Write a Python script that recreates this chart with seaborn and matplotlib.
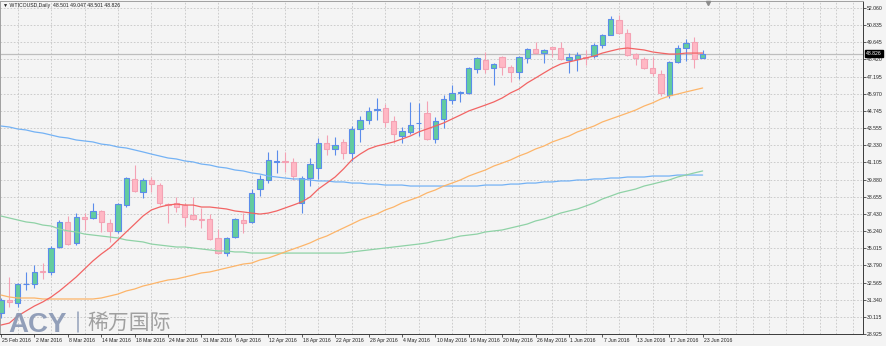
import matplotlib
matplotlib.use("Agg")
import matplotlib.pyplot as plt
import matplotlib.transforms as mtransforms
from matplotlib.lines import Line2D
import numpy as np
import pandas as pd
import seaborn as sns

# ---- daily WTI candles, 25 Feb 2016 .. 23 Jun 2016 ----
symbol = "WTICOUSD,Daily"
last_quote = [48.501, 49.047, 48.501, 48.826]  # open, high, low, close of the latest bar

opens = [30.41, 31.33, 31.11, 32.43, 32.46, 33.39, 33.32, 35.09, 36.87, 35.37,
         37.19, 37.15, 37.65, 36.80, 36.23, 38.07, 39.92, 39.00, 39.85, 39.49,
         38.11, 38.22, 38.07, 37.36, 37.11, 37.08, 35.73, 34.66, 35.80, 37.01,
         36.87, 39.21, 39.85, 41.16, 41.23, 41.13, 38.22, 39.99, 40.70, 42.48,
         42.05, 42.55, 41.79, 43.47, 44.11, 44.82, 44.96, 44.04, 42.97, 43.26,
         43.86, 44.60, 42.76, 44.18, 45.53, 46.06, 46.03, 47.73, 48.37, 47.80,
         48.58, 47.87, 47.52, 48.51, 49.15, 48.86, 49.26, 49.22, 48.40, 48.44,
         48.58, 48.65, 49.43, 50.14, 51.21, 50.29, 48.76, 48.44, 47.80, 47.37,
         45.88, 48.23, 49.22, 49.65, 48.501]
highs = [31.47, 32.96, 32.54, 33.32, 33.81, 33.95, 35.16, 37.01, 37.29, 37.50,
         37.50, 38.22, 37.72, 37.08, 38.22, 40.06, 40.91, 39.99, 40.06, 39.63,
         38.22, 38.64, 38.22, 38.64, 37.86, 37.43, 36.37, 35.80, 37.15, 37.50,
         39.21, 40.20, 41.84, 41.98, 41.84, 41.41, 40.13, 41.41, 42.83, 43.04,
         42.90, 42.76, 43.68, 44.39, 45.03, 45.67, 45.24, 44.39, 43.61, 45.39,
         45.32, 45.46, 44.32, 45.88, 46.59, 46.17, 47.87, 48.58, 48.92, 48.16,
         48.65, 48.01, 48.65, 49.22, 49.65, 49.15, 49.29, 49.65, 48.86, 48.94,
         49.08, 49.58, 50.21, 51.49, 51.56, 50.57, 48.86, 48.58, 48.58, 47.66,
         48.30, 49.43, 49.89, 50.00, 49.047]
lows = [30.05, 30.83, 30.83, 32.04, 32.18, 32.82, 33.10, 35.02, 35.23, 35.23,
        36.30, 37.08, 36.16, 35.45, 36.09, 37.93, 39.00, 38.57, 39.00, 38.07,
        36.80, 37.58, 36.58, 37.01, 36.44, 35.59, 34.59, 34.45, 35.73, 36.09,
        36.80, 38.71, 39.63, 40.35, 40.42, 39.85, 37.50, 39.42, 39.92, 41.62,
        41.62, 41.34, 41.20, 42.55, 43.82, 44.11, 43.61, 42.48, 42.48, 43.11,
        42.97, 42.69, 42.48, 43.54, 45.24, 45.39, 45.95, 47.45, 47.45, 46.59,
        47.30, 46.81, 47.02, 48.16, 48.79, 48.16, 48.58, 48.37, 47.45, 47.59,
        48.01, 48.51, 49.22, 50.14, 50.21, 48.65, 48.01, 47.73, 47.23, 45.81,
        45.67, 48.16, 48.30, 47.80, 48.501]
closes = [31.33, 31.22, 32.46, 32.46, 33.32, 33.32, 35.02, 36.87, 35.30, 37.22,
          37.11, 37.65, 36.87, 36.23, 38.14, 39.99, 39.07, 39.85, 39.56, 38.22,
          38.04, 37.93, 37.22, 37.08, 37.04, 35.66, 34.66, 35.73, 37.08, 36.83,
          38.93, 39.92, 41.27, 41.20, 41.13, 40.13, 39.99, 40.98, 42.48, 42.05,
          42.33, 41.79, 43.47, 44.11, 44.75, 44.89, 43.97, 43.11, 43.33, 43.75,
          43.90, 42.76, 44.04, 45.60, 46.03, 46.10, 47.80, 48.51, 47.73, 48.08,
          47.87, 47.52, 48.58, 49.15, 48.86, 49.08, 49.18, 48.44, 48.58, 48.69,
          48.51, 49.43, 50.14, 51.28, 50.29, 48.72, 48.51, 47.80, 47.45, 46.03,
          48.23, 49.22, 49.61, 48.44, 48.826]

# moving averages shown on the chart
ma_fast = [29.55, 29.69, 30.19, 30.55, 30.90, 31.19, 31.54, 31.97, 32.46, 32.96,
           33.53, 34.10, 34.59, 35.02, 35.59, 36.16, 36.72, 37.29, 37.72, 37.93,
           38.07, 38.14, 38.07, 38.07, 37.93, 37.93, 37.86, 37.79, 37.65, 37.58,
           37.50, 37.43, 37.50, 37.65, 37.86, 38.07, 38.29, 38.64, 39.21, 39.63,
           40.06, 40.63, 41.27, 41.69, 42.05, 42.26, 42.40, 42.55, 42.76, 42.97,
           43.26, 43.47, 43.68, 43.90, 44.18, 44.46, 44.75, 44.96, 45.17, 45.39,
           45.67, 46.03, 46.31, 46.74, 47.09, 47.45, 47.80, 48.08, 48.23, 48.37,
           48.51, 48.65, 48.86, 49.01, 49.15, 49.22, 49.15, 49.08, 48.94, 48.86,
           48.79, 48.79, 48.86, 48.86, 48.86]
ma_mid = [31.68, 31.54, 31.47, 31.47, 31.47, 31.40, 31.40, 31.40, 31.40, 31.40,
          31.40, 31.40, 31.47, 31.61, 31.75, 31.97, 32.11, 32.32, 32.46, 32.61,
          32.75, 32.82, 32.96, 33.10, 33.25, 33.32, 33.46, 33.60, 33.74, 33.88,
          33.95, 34.17, 34.31, 34.52, 34.74, 34.95, 35.16, 35.38, 35.66, 35.87,
          36.16, 36.44, 36.72, 37.01, 37.22, 37.43, 37.72, 37.93, 38.22, 38.43,
          38.64, 38.93, 39.14, 39.42, 39.63, 39.85, 40.13, 40.35, 40.56, 40.84,
          41.05, 41.27, 41.55, 41.77, 42.05, 42.26, 42.55, 42.76, 42.97, 43.26,
          43.47, 43.68, 43.97, 44.18, 44.39, 44.60, 44.82, 45.10, 45.32, 45.60,
          45.81, 45.95, 46.10, 46.24, 46.38]
ma_slow = [37.29, 37.15, 37.01, 36.87, 36.80, 36.65, 36.58, 36.37, 36.23, 36.16,
           36.01, 35.94, 35.87, 35.80, 35.73, 35.59, 35.52, 35.45, 35.30, 35.23,
           35.16, 35.09, 35.09, 35.02, 34.95, 34.88, 34.81, 34.81, 34.74, 34.74,
           34.66, 34.66, 34.66, 34.66, 34.66, 34.66, 34.66, 34.66, 34.66, 34.66,
           34.66, 34.66, 34.74, 34.81, 34.88, 34.95, 35.02, 35.09, 35.16, 35.23,
           35.30, 35.38, 35.52, 35.59, 35.73, 35.87, 35.94, 36.01, 36.16, 36.23,
           36.30, 36.44, 36.58, 36.72, 36.94, 37.08, 37.29, 37.50, 37.65, 37.79,
           38.00, 38.22, 38.50, 38.71, 38.93, 39.07, 39.21, 39.42, 39.56, 39.71,
           39.85, 40.06, 40.20, 40.35, 40.49]
ma_long = [43.68, 43.61, 43.47, 43.40, 43.26, 43.18, 43.04, 42.90, 42.83, 42.69,
           42.62, 42.55, 42.40, 42.33, 42.19, 42.12, 41.98, 41.84, 41.69, 41.55,
           41.41, 41.34, 41.20, 41.13, 40.98, 40.91, 40.77, 40.70, 40.56, 40.49,
           40.35, 40.27, 40.13, 40.06, 39.99, 39.92, 39.92, 39.85, 39.78, 39.78,
           39.71, 39.71, 39.63, 39.63, 39.56, 39.56, 39.49, 39.49, 39.49, 39.42,
           39.42, 39.42, 39.42, 39.42, 39.42, 39.42, 39.42, 39.42, 39.49, 39.49,
           39.49, 39.56, 39.56, 39.63, 39.63, 39.71, 39.71, 39.78, 39.78, 39.85,
           39.85, 39.92, 39.92, 39.99, 39.99, 40.06, 40.06, 40.06, 40.13, 40.13,
           40.13, 40.20, 40.20, 40.20, 40.20]

date_labels = ["25 Feb 2016", "2 Mar 2016", "8 Mar 2016", "14 Mar 2016", "18 Mar 2016",
               "24 Mar 2016", "31 Mar 2016", "6 Apr 2016", "12 Apr 2016", "18 Apr 2016",
               "22 Apr 2016", "28 Apr 2016", "4 May 2016", "10 May 2016", "16 May 2016",
               "20 May 2016", "26 May 2016", "1 Jun 2016", "7 Jun 2016", "13 Jun 2016",
               "17 Jun 2016", "23 Jun 2016"]
price_labels = ["52.060", "50.835", "49.645", "48.420", "47.195", "45.970", "44.745",
                "43.555", "42.330", "41.105", "39.880", "38.655", "37.430", "36.240",
                "35.015", "33.790", "32.565", "31.340", "30.115", "28.925"]

# ---- styling ----
sns.set_theme(style="white")
plt.rcParams["font.family"] = ["Liberation Sans", "DejaVu Sans"]
BG = "#F4F4F4"
GRID = "#C6C6C6"
UP_FILL, UP_EDGE = "#63CC9E", "#5B8CEB"
DN_FILL, DN_EDGE = "#FFB8C4", "#F4A2B4"
TXT_SIZE = 3.7

n = len(closes)
bars = pd.DataFrame({"bar": np.arange(n), "open": opens, "high": highs,
                     "low": lows, "close": closes})
rising = (bars["close"] >= bars["open"]).to_numpy()

fig = plt.figure(figsize=(8.86, 3.46), dpi=100, facecolor=BG)
ax = fig.add_axes([0.0, 12 / 346, 863 / 886, 333 / 346])
ax.set_facecolor(BG)

# wicks, then bodies
ax.vlines(bars["bar"], bars["low"], bars["high"],
          colors=np.where(rising, UP_EDGE, DN_EDGE), linewidth=0.8, zorder=2)
body_low = bars[["open", "close"]].min(axis=1)
body_height = (bars["close"] - bars["open"]).abs()
ax.bar(bars["bar"], body_height, bottom=body_low, width=0.64,
       color=np.where(rising, UP_FILL, DN_FILL),
       edgecolor=np.where(rising, UP_EDGE, DN_EDGE), linewidth=0.8, zorder=3)

# moving-average overlays
ma = pd.DataFrame({"bar": np.arange(n), "fast": ma_fast, "mid": ma_mid,
                   "slow": ma_slow, "long": ma_long})
ma_long_df = ma.melt(id_vars="bar", var_name="line", value_name="price")
palette = {"fast": "#F26464", "mid": "#FDB56A", "slow": "#8FD2A6", "long": "#74B2F4"}
sns.lineplot(data=ma_long_df, x="bar", y="price", hue="line", palette=palette,
             hue_order=["long", "slow", "mid", "fast"], estimator=None, sort=False,
             linewidth=0.9, legend=False, ax=ax, zorder=4)

# last price line
ax.axhline(last_quote[3], color="#BEBEBE", linewidth=0.9, zorder=1.5)

# axes, ticks and grid
ax.set_xlim(-0.12, 103.2)
ax.set_ylim(28.914, 52.557)
ax.set_xlabel("")
ax.set_ylabel("")
ax.set_xticks(np.arange(0, n, 4))
ax.set_xticklabels(date_labels)
ax.set_xticks(np.arange(0, 104, 2), minor=True)
ax.yaxis.tick_right()
ax.set_yticks([float(v) for v in price_labels])
ax.set_yticklabels(price_labels)

ax.grid(False)
ax.grid(True, which="minor", axis="x", color=GRID, linewidth=0.6, linestyle=(0, (2, 2)))
ax.grid(True, which="major", axis="y", color=GRID, linewidth=0.6, linestyle=(0, (2, 2)))
ax.set_axisbelow(True)

ax.tick_params(axis="x", which="major", bottom=True, length=2, width=0.6, color="#404040",
               labelsize=TXT_SIZE, pad=0.6, labelcolor="#222222")
ax.tick_params(axis="x", which="minor", bottom=False, length=0)
ax.tick_params(axis="y", which="major", right=True, left=False, length=2, width=0.6,
               color="#404040", labelsize=TXT_SIZE, pad=0.8, labelcolor="#222222")

shift = mtransforms.ScaledTranslation(1.2 / 100, 0, fig.dpi_scale_trans)
for lbl in ax.get_xticklabels():
    lbl.set_horizontalalignment("left")
    lbl.set_transform(lbl.get_transform() + shift)

for side, spine in ax.spines.items():
    spine.set_visible(True)
    spine.set_linewidth(0.7)
    spine.set_color("#3A3A3A" if side in ("right", "bottom") else "#A0A0A0")

# chart-shift marker on the top edge
top_tf = mtransforms.blended_transform_factory(ax.transData, ax.transAxes)
ax.plot([84.6], [0.994], marker="v", markersize=3, color="#8C8C8C",
        transform=top_tf, clip_on=False, zorder=6)

# current price tag on the price scale
tag_tf = mtransforms.blended_transform_factory(ax.transAxes, ax.transData)
ax.text(1.0035, last_quote[3], f"{last_quote[3]:.3f}", transform=tag_tf,
        color="white", fontsize=TXT_SIZE, ha="left", va="center", zorder=6,
        bbox=dict(boxstyle="square,pad=0.25", fc="black", ec="black"))

# chart header
header = "\u25BC " + symbol + "  " + " ".join(f"{v:.3f}" for v in last_quote)
fig.text(3 / 886, 1 - 5 / 346, header, fontsize=TXT_SIZE, color="#1E1E1E",
         ha="left", va="center", family=["Liberation Sans", "DejaVu Sans"])

# broker watermark
fig.text(8 / 886, 1 - 332 / 346, "ACY", fontsize=20, fontweight="bold",
         color="#8A98B4", alpha=0.92, ha="left", va="baseline",
         family=["Liberation Sans", "DejaVu Sans"])
fig.add_artist(Line2D([77.5 / 886, 77.5 / 886], [1 - 312 / 346, 1 - 332 / 346],
                      color="#8A98B4", linewidth=1.1, alpha=0.9))
fig.text(87 / 886, 1 - 329 / 346, "稀万国际", fontsize=15, color="#9C9C9C",
         alpha=0.95, ha="left", va="baseline", family=["Noto Sans CJK SC"])

fig.savefig("out.png", dpi=100, facecolor=BG)
